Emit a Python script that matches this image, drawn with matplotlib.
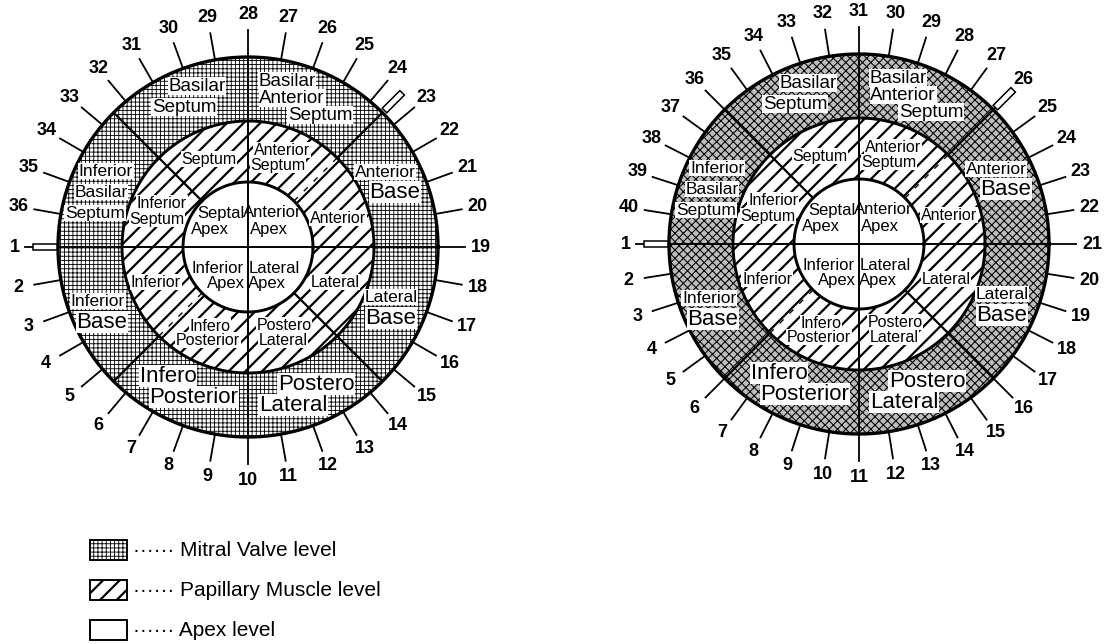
import numpy as np
import matplotlib
matplotlib.use('Agg')
import matplotlib.pyplot as plt
from matplotlib.path import Path
from matplotlib.patches import PathPatch, Polygon, Rectangle

plt.rcParams['hatch.color'] = 'black'

# ---- data ----
left_ticks = ['1', '2', '3', '4', '5', '6', '7', '8', '9', '10', '11', '12',
              '13', '14', '15', '16', '17', '18', '19', '20', '21', '22', '23', '24',
              '25', '26', '27', '28', '29', '30', '31', '32', '33', '34', '35', '36']
right_ticks = ['1', '2', '3', '4', '5', '6', '7', '8', '9', '10', '11', '12',
               '13', '14', '15', '16', '17', '18', '19', '20', '21', '22', '23', '24',
               '25', '26', '27', '28', '29', '30', '31', '32', '33', '34', '35', '36',
               '37', '38', '39', '40']

outer_names = [["Basilar", "Septum"], ["Basilar", "Anterior", "Septum"],
               ["Anterior", "Base"], ["Lateral", "Base"], ["Postero", "Lateral"],
               ["Infero", "Posterior"], ["Inferior", "Base"],
               ["Inferior", "Basilar", "Septum"]]
middle_names = [["Septum"], ["Anterior", "Septum"], ["Anterior"], ["Lateral"],
                ["Postero", "Lateral"], ["Infero", "Posterior"], ["Inferior"],
                ["Inferior", "Septum"]]
apex_names = [["Septal", "Apex"], ["Anterior", "Apex"], ["Inferior", "Apex"],
              ["Lateral", "Apex"]]
legend_names = ["Mitral Valve level", "Papillary Muscle level", "Apex level"]

# ---- layout (pixel offsets from chart centre) ----
outer_pos = [[(-51, -161), (-64, -140)], [(39, -166), (44, -149), (72, -132)],
             [(137, -75), (147, -55)], [(143, 50), (143, 71)],
             [(68, 137), (45, 158)], [(-80, 129), (-54, 150)],
             [(-150, 54), (-146, 75)], [(-142, -76), (-147, -55), (-153, -34)]]
outer_fs = [[13.5, 13.5], [13.5, 13.5, 13.5], [12.5, 16], [12.5, 16], [16, 16],
            [16, 16], [12.5, 16], [12.5, 12.5, 12.5]]
middle_pos = [[(-39, -88)], [(34, -97), (30, -82)], [(90, -29)], [(87, 35)],
              [(36, 78), (35, 93)], [(-38, 79), (-40, 93)], [(-92, 35)],
              [(-86, -44), (-91, -28)]]
apex_pos = [[(-27, -34), (-38, -18)], [(24, -35), (21, -18)],
            [(-30, 21), (-22, 36)], [(26, 21), (19, 36)]]

W, H = 1110, 644
R_OUT, R_MID, R_IN = 190, 126, 65

fig = plt.figure(figsize=(W / 100, H / 100), dpi=100)
ax = fig.add_axes([0, 0, 1, 1])
ax.set_xlim(0, W)
ax.set_ylim(H, 0)
ax.axis('off')

LAB = ['Liberation Sans', 'DejaVu Sans']
NUM = ['Liberation Sans Narrow', 'Liberation Sans', 'DejaVu Sans']


def pt(c, r, a):
    a = np.radians(a)
    return c[0] + r * np.cos(a), c[1] - r * np.sin(a)


def ring(c, r0, r1, hatch, hlw, fc='white'):
    plt.rcParams['hatch.linewidth'] = hlw
    t = np.linspace(0, 360, 361)
    xo, yo = pt(c, r1, t)
    xi, yi = pt(c, r0, t[::-1])
    verts = np.r_[np.c_[xo, yo], np.c_[xi, yi]]
    codes = [Path.MOVETO] + [Path.LINETO] * 360 + [Path.MOVETO] + [Path.LINETO] * 360
    p = PathPatch(Path(verts, codes), fc=fc, ec='black', lw=0, hatch=hatch, zorder=1)
    if hasattr(p, 'set_hatch_linewidth'):
        p.set_hatch_linewidth(hlw)
    ax.add_patch(p)
    return p


def circ(c, r, lw):
    t = np.linspace(0, 360, 361)
    x, y = pt(c, r, t)
    ax.plot(x, y, color='black', lw=lw, zorder=4)


def spoke(c, a, r0, r1, lw=1.3, ls='-'):
    x0, y0 = pt(c, r0, a)
    x1, y1 = pt(c, r1, a)
    ax.plot([x0, x1], [y0, y1], color='black', lw=lw, ls=ls, zorder=3)


def marker(c, a, r0, r1, hw=3.2):
    u = np.array([np.cos(np.radians(a)), -np.sin(np.radians(a))])
    n = np.array([-u[1], u[0]])
    p0 = np.array(pt(c, r0, a))
    p1 = np.array(pt(c, r1, a))
    poly = [p0 + n * hw, p1 + n * hw, p1 - n * hw, p0 - n * hw]
    ax.add_patch(Polygon(poly, closed=True, fc='white', ec='black', lw=1.1, zorder=6))


def chart(c, ticks, step, outer_hatch, outer_hlw, outer_fc):
    cx, cy = c
    ring(c, R_MID, R_OUT, outer_hatch, outer_hlw, outer_fc)
    ring(c, R_IN, R_MID, '//', 1.6)

    # division lines
    for a in (0, 90, 180, 270):
        spoke(c, a, 0, R_OUT, lw=1.4)
    for a in (135, 315):
        spoke(c, a, R_IN, R_OUT, lw=1.6)
    for a in (45, 225):
        spoke(c, a, R_MID, R_OUT, lw=1.6)
        spoke(c, a, R_IN, R_MID, lw=1.0, ls=(0, (4, 6)))

    circ(c, R_OUT, 2.4)
    circ(c, R_MID, 2.1)
    circ(c, R_IN, 2.1)

    # numbered ticks
    for i, lab in enumerate(ticks):
        a = 180 + i * step
        r1 = 223 if i == 0 else 217
        spoke(c, a, R_OUT, r1, lw=1.3)
        x, y = pt(c, 233, a)
        ax.text(x, y, lab, ha='center', va='center', fontsize=13,
                family=NUM, fontweight='bold', zorder=7)

    marker(c, 180, R_OUT + 1, 215)
    marker(c, 45, R_OUT + 3, 218)

    bb = dict(fc='white', ec='none', pad=0.5)
    for names, pos, fss in zip(outer_names, outer_pos, outer_fs):
        for s, (dx, dy), fs in zip(names, pos, fss):
            ax.text(cx + dx, cy + dy, s, ha='center', va='center', fontsize=fs,
                    family=LAB, bbox=bb, zorder=8)
    for names, pos in zip(middle_names, middle_pos):
        for s, (dx, dy) in zip(names, pos):
            ax.text(cx + dx, cy + dy, s, ha='center', va='center', fontsize=11.5,
                    family=LAB, bbox=bb, zorder=8)
    for names, pos in zip(apex_names, apex_pos):
        for s, (dx, dy) in zip(names, pos):
            ax.text(cx + dx, cy + dy, s, ha='center', va='center', fontsize=12,
                    family=LAB, zorder=8)


chart((248, 247), left_ticks, 10, '++++', 0.62, 'white')
chart((859, 244), right_ticks, 9, 'xxxx', 0.75, '#bdbdbd')

# legend
leg_hatch = ['++++', '//', None]
leg_hlw = [0.62, 1.6, 1.0]
for k, (name, hh, hl) in enumerate(zip(legend_names, leg_hatch, leg_hlw)):
    y = 540 + k * 40
    plt.rcParams['hatch.linewidth'] = hl
    r = Rectangle((90, y), 37, 20, fc='white', ec='black', lw=1.4, hatch=hh)
    if hasattr(r, 'set_hatch_linewidth'):
        r.set_hatch_linewidth(hl)
    ax.add_patch(r)
    ax.text(133, y + 10, '\u00b7\u00b7\u00b7\u00b7\u00b7\u00b7 ' + name, ha='left',
            va='center', fontsize=15, family=LAB)

fig.savefig('out.png', dpi=100)
